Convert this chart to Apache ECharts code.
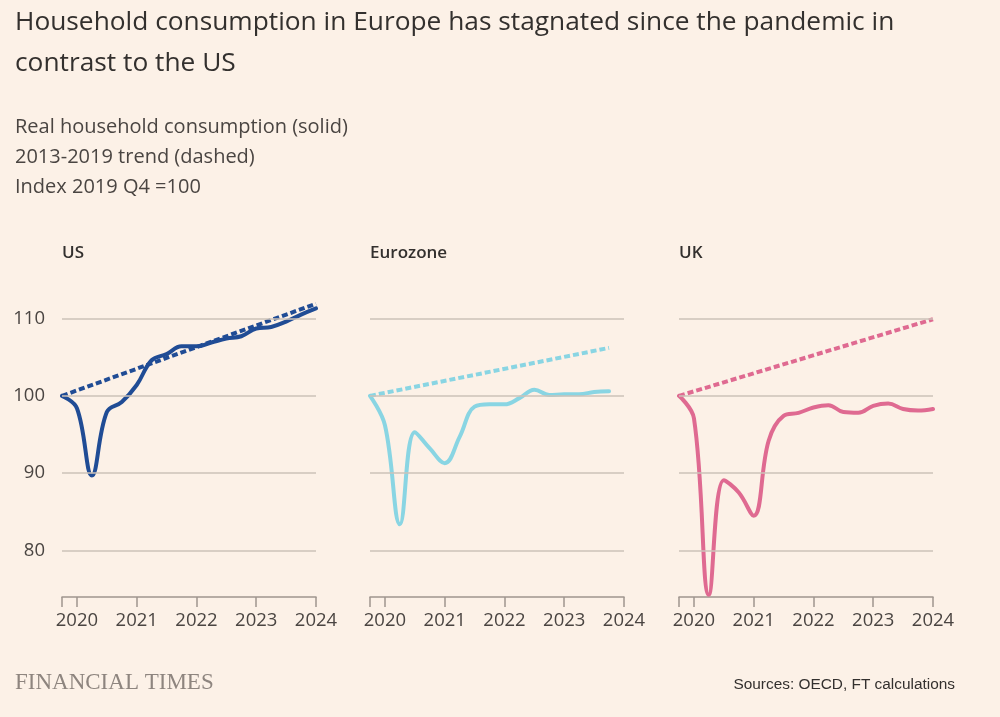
<!DOCTYPE html>
<html>
<head>
<meta charset="utf-8">
<script src="https://cdn.jsdelivr.net/npm/echarts@6/dist/echarts.min.js"></script>
<style>
  html, body { margin: 0; padding: 0; background: #fcf1e7; }
  #chart { width: 1000px; height: 717px; }
</style>
</head>
<body>
<div id="chart"></div>
<script>
// quarters from 2019 Q4 to 2024 Q1
var quarters = ['2019Q4',
    '2020Q1', '2020Q2', '2020Q3', '2020Q4',
    '2021Q1', '2021Q2', '2021Q3', '2021Q4',
    '2022Q1', '2022Q2', '2022Q3', '2022Q4',
    '2023Q1', '2023Q2', '2023Q3', '2023Q4',
    '2024Q1'];

var panelNames = ['US', 'Eurozone', 'UK'];

var usSolid = [100, 98.4, 89.7, 97.9, 99.2, 101.4, 104.6, 105.4, 106.4, 106.4,
    106.9, 107.4, 107.7, 108.7, 108.9, 109.6, 110.5, 111.3];
var ezSolid = [100, 96.2, 83.4, 95.3, 93.2, 91.3, 94.7, 98.6, 98.9, 98.9,
    99.7, 100.8, 100.1, 100.2, 100.2, 100.5, 100.6];
var ukSolid = [100, 97.1, 74.3, 89.1, 87.5, 84.5, 94.2, 97.4, 97.8, 98.5,
    98.8, 97.9, 97.8, 98.7, 99.0, 98.3, 98.1, 98.3];

// trend lines: only the two ends are read, drawn straight between them
var usTrend = [100, null, null, null, null, null, null, null, null, null,
    null, null, null, null, null, null, null, 111.9];
var ezTrend = [100, null, null, null, null, null, null, null, null, null,
    null, null, null, null, null, null, 106.2];
var ukTrend = [100, null, null, null, null, null, null, null, null, null,
    null, null, null, null, null, null, null, 109.9];

var gridValues = [80, 90, 100, 110];
var colors = ['#204c95', '#89d5e3', '#df6a91'];

var chart = echarts.init(document.getElementById('chart'));

var font = 'Open Sans, Liberation Sans, sans-serif';
var panelLeft = [62, 370, 679];
var panelWidth = 254;
var axisGrey = '#9e958e';

var grids = [], xAxes = [], yAxes = [], series = [], titles = [];

titles.push({
    text: 'Household consumption in Europe has stagnated since the pandemic in\ncontrast to the US',
    left: 15, top: 2, padding: 0,
    textStyle: { fontFamily: font, fontSize: 26.3, fontWeight: 'normal', color: '#33302e', lineHeight: 41 }
});
titles.push({
    text: 'Real household consumption (solid)\n2013-2019 trend (dashed)\nIndex 2019 Q4 =100',
    left: 15, top: 112, padding: 0,
    textStyle: { fontFamily: font, fontSize: 20, fontWeight: 'normal', color: '#4a4542', lineHeight: 30 }
});
titles.push({
    text: 'FINANCIAL TIMES',
    left: 15, top: 671, padding: 0,
    textStyle: { fontFamily: 'Liberation Serif, serif', fontSize: 23, fontWeight: 'normal', color: '#8e857f' }
});
titles.push({
    text: 'Sources: OECD, FT calculations',
    right: 45, top: 677, padding: 0,
    textStyle: { fontFamily: 'Liberation Sans, sans-serif', fontSize: 15.4, fontWeight: 'normal', color: '#33302e' }
});

var solids = [usSolid, ezSolid, ukSolid];
var trends = [usTrend, ezTrend, ukTrend];

panelNames.forEach(function (name, i) {
    titles.push({
        text: name,
        left: panelLeft[i], top: 245, padding: 0,
        textStyle: { fontFamily: font, fontSize: 17, fontWeight: 600, color: '#33302e' }
    });
    grids.push({ left: panelLeft[i], width: panelWidth, top: 303, height: 294 });
    xAxes.push({
        type: 'category', gridIndex: i, data: quarters, boundaryGap: false,
        axisLine: { lineStyle: { color: axisGrey, width: 1.5 } },
        axisTick: {
            length: 10, lineStyle: { color: axisGrey, width: 1.5 },
            interval: function (idx) { return idx === 0 || (idx - 1) % 4 === 0; }
        },
        axisLabel: {
            interval: function (idx) { return idx >= 1 && (idx - 1) % 4 === 0; },
            formatter: function (v) { return v.slice(0, 4); },
            fontFamily: font, fontSize: 18.5, color: '#4a4542', margin: 14
        },
        splitLine: { show: false }
    });
    yAxes.push({
        type: 'value', gridIndex: i, min: 74, max: 112, interval: 2,
        axisLine: { show: false }, axisTick: { show: false },
        splitLine: { show: false },
        axisLabel: {
            show: i === 0, margin: 17,
            formatter: function (v) { return v % 10 === 0 && v !== 74 ? v : ''; },
            fontFamily: font, fontSize: 18.5, color: '#4a4542'
        }
    });
    // gridlines
    series.push({
        type: 'line', xAxisIndex: i, yAxisIndex: i, data: [], z: 1, silent: true,
        markLine: {
            silent: true, symbol: 'none', label: { show: false },
            lineStyle: { type: 'solid', color: '#ccc2b8', width: 1.5 },
            animation: false,
            data: gridValues.map(function (v) { return { yAxis: v }; })
        }
    });
    series.push({
        type: 'line', xAxisIndex: i, yAxisIndex: i, data: trends[i], connectNulls: true,
        showSymbol: false, symbol: 'none', z: 2,
        lineStyle: { color: colors[i], width: 4, type: [6, 3] }
    });
    series.push({
        type: 'line', xAxisIndex: i, yAxisIndex: i, data: solids[i], smooth: 0.4,
        showSymbol: false, symbol: 'none', z: 3,
        lineStyle: { color: colors[i], width: 4, cap: 'round', join: 'round' }
    });
});

chart.setOption({
    backgroundColor: '#fcf1e7',
    animation: false,
    title: titles,
    grid: grids,
    xAxis: xAxes,
    yAxis: yAxes,
    series: series
});
</script>
</body>
</html>
